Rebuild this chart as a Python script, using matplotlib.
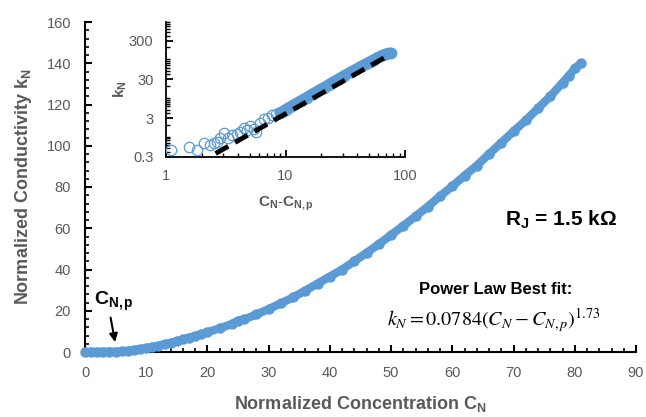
import numpy as np
import matplotlib.pyplot as plt
from matplotlib.ticker import MultipleLocator, FixedLocator, LogLocator, NullFormatter

plt.rcParams['font.family'] = ['Liberation Sans', 'DejaVu Sans']
plt.rcParams['mathtext.fontset'] = 'custom'
plt.rcParams['mathtext.rm'] = 'Liberation Serif'
plt.rcParams['mathtext.it'] = 'Liberation Serif:italic'
plt.rcParams['mathtext.bf'] = 'Liberation Sans:bold'

# Основные данные: нормированная концентрация и проводимость
conc = [0, 1, 2, 3, 4, 5, 6, 7, 8, 9, 10, 11, 12, 13, 14, 15, 16, 17, 18, 19, 20,
        22, 24, 25, 26, 28, 30, 32, 34, 36, 38, 40, 42, 44, 46, 48, 50, 52, 54, 56,
        58, 60, 62, 64, 66, 68, 70, 72, 74, 76, 78, 79, 80, 81]
cond = [0.0, 0.05, 0.1, 0.1, 0.15, 0.2, 0.3, 0.6, 1.0, 1.4, 1.9, 2.5, 3.1, 3.8, 4.5,
        5.3, 6.1, 7.0, 7.8, 8.7, 9.6, 11.5, 13.6, 15.2, 15.8, 18.2, 20.8, 23.6, 26.5,
        29.8, 33.2, 36.6, 40.0, 44.0, 48.1, 52.3, 56.8, 61.2, 65.8, 70.5, 75.6, 80.4,
        85.5, 90.4, 96.0, 101.5, 107.0, 112.3, 118.2, 124.0, 130.5, 133.8, 137.5, 140.0]

# Вставка: C_N - C_N,p против k_N (лог-лог)
diff = [1.1, 1.57, 1.83, 2.08, 2.34, 2.5, 2.67, 2.85, 3.07, 3.3, 3.56, 3.9, 4.2, 4.46,
        4.8, 5.08, 5.4, 5.7, 6.1, 6.65, 7.2, 7.7, 8.3, 9.0, 9.4, 10, 11, 12, 13.5, 15,
        17, 19, 21, 23, 25, 28, 31, 35, 39, 43, 47, 51, 55, 60, 65, 70, 74, 76]
diff_k = [0.45, 0.55, 0.45, 0.70, 0.61, 0.68, 0.74, 0.9, 1.22, 0.95, 1.10, 1.2, 1.3,
          1.69, 1.5, 1.87, 1.6, 1.33, 2.2, 2.78, 3.0, 3.58, 3.9, 4.2, 4.3, 5.0, 5.9,
          6.9, 8.5, 10.2, 12.8, 15.6, 18.5, 21.8, 25.5, 31, 37.5, 46, 55, 64.5, 75,
          86, 97, 111, 126, 137, 140, 142]

# Степенная аппроксимация (концы прямой в лог-лог)
fit_x = [2.6, 74]
fit_k = [0.37, 128]

blue = '#5B9BD5'
grey = '#595959'
W, H = 646, 417


def fig_xy(px, py):
    return px / W, 1 - py / H


fig = plt.figure(figsize=(6.46, 4.17), dpi=100)
ax = fig.add_axes([85 / W, 1 - 352 / H, (636 - 85) / W, (352 - 22) / H])
ax.plot(conc, cond, '-o', color=blue, lw=6, ms=6.5, mec=blue, mfc=blue,
        solid_capstyle='round', clip_on=False, zorder=3)
ax.set_xlim(0, 90)
ax.set_ylim(0, 160)
ax.xaxis.set_major_locator(MultipleLocator(10))
ax.xaxis.set_minor_locator(MultipleLocator(2))
ax.yaxis.set_major_locator(MultipleLocator(20))
ax.yaxis.set_minor_locator(MultipleLocator(4))
for s in ['top', 'right']:
    ax.spines[s].set_visible(False)
for s in ['left', 'bottom']:
    ax.spines[s].set_linewidth(1.5)
ax.tick_params(which='major', direction='in', length=5, width=1.5, labelsize=10.5,
               labelcolor=grey, pad=10)
ax.tick_params(which='minor', direction='in', length=3, width=1.2)
ax.set_xlabel(r'Normalized Concentration $\mathbf{C_N}$', fontsize=13,
              fontweight='bold', color=grey, labelpad=10)
ax.set_ylabel(r'Normalized Conductivity $\mathbf{k_N}$', fontsize=13,
              fontweight='bold', color=grey, labelpad=9)

ax.annotate('', xy=(5, 3.5), xytext=(4.1, 18),
            arrowprops=dict(arrowstyle='-|>', color='black', lw=1.5, mutation_scale=12))
fig.text(*fig_xy(114, 301), r'$\mathbf{C_{N,p}}$', fontsize=14, ha='center', va='center')
fig.text(*fig_xy(561, 220), r'$\mathbf{R_J}$ = 1.5 kΩ', fontsize=15, fontweight='bold',
         ha='center', va='center')
fig.text(*fig_xy(496, 290), 'Power Law Best fit:', fontsize=12, fontweight='bold',
         ha='center', va='center')
fig.text(*fig_xy(494, 320), r'$k_N = 0.0784(C_N - C_{N,p})^{1.73}$', fontsize=14.5,
         math_fontfamily='stix', ha='center', va='center')

# Вставка
axi = fig.add_axes([166 / W, 1 - 157 / H, (405 - 166) / W, (157 - 22) / H])
axi.set_xscale('log')
axi.set_yscale('log')
hi = [i for i, v in enumerate(diff) if v >= 9]
axi.plot([diff[i] for i in hi], [diff_k[i] for i in hi], color=blue, lw=8,
         solid_capstyle='round', zorder=2)
axi.plot(diff, diff_k, 'o', mfc='none', mec=blue, ms=7.5, mew=0.9, zorder=3)
axi.plot(fit_x, fit_k, color='black', lw=3.5, dashes=(3, 1.6), zorder=4)
axi.set_xlim(1, 100)
axi.set_ylim(0.3, 900)
axi.xaxis.set_major_locator(FixedLocator([1, 10, 100]))
axi.set_xticklabels(['1', '10', '100'])
axi.yaxis.set_major_locator(FixedLocator([0.3, 3, 30, 300]))
axi.set_yticklabels(['0.3', '3', '30', '300'])
axi.xaxis.set_minor_locator(LogLocator(subs=np.arange(2, 10)))
axi.yaxis.set_minor_locator(LogLocator(subs=np.arange(1, 10)))
axi.xaxis.set_minor_formatter(NullFormatter())
axi.yaxis.set_minor_formatter(NullFormatter())
for s in ['top', 'right']:
    axi.spines[s].set_visible(False)
for s in ['left', 'bottom']:
    axi.spines[s].set_linewidth(1.3)
axi.tick_params(which='major', direction='in', length=5, width=1.3, labelsize=10.5,
                labelcolor=grey, pad=9)
axi.tick_params(which='minor', direction='in', length=3, width=1)
axi.set_xlabel(r'$\mathbf{C_N}$-$\mathbf{C_{N,p}}$', fontsize=11, color=grey, labelpad=8)
axi.set_ylabel(r'$\mathbf{k_N}$', fontsize=11, color=grey, labelpad=0)

fig.savefig('out.png', dpi=100)
